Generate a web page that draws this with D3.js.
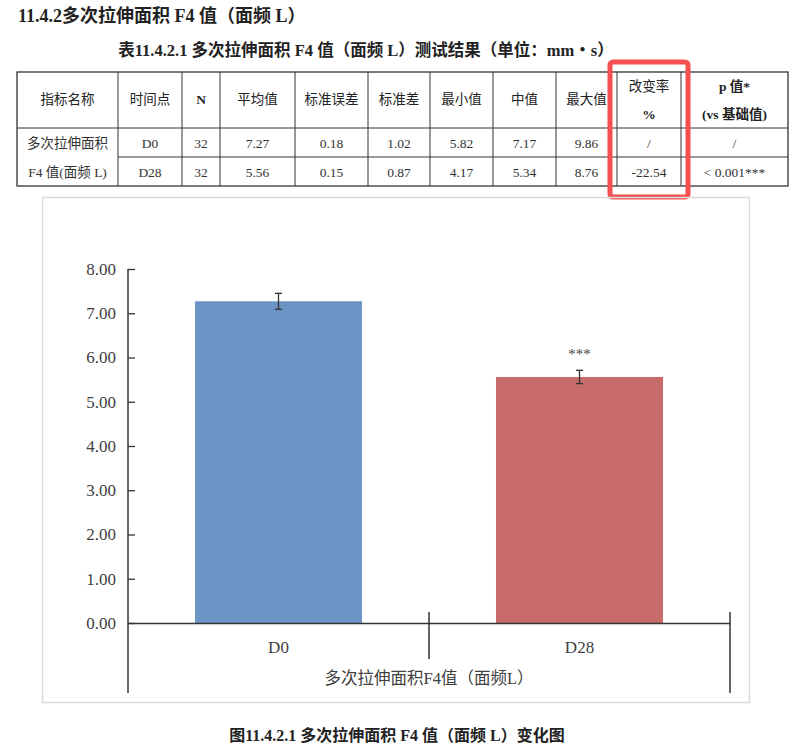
<!DOCTYPE html>
<html><head><meta charset="utf-8">
<script src="https://cdn.jsdelivr.net/npm/d3@7"></script>
<style>
html,body{margin:0;padding:0;background:#fff;}
svg{display:block;}
</style></head>
<body>
<svg id="c" width="806" height="750"></svg>
<script>
// ---- data ----
const categories = ["D0", "D28"];
const means = [7.27, 5.56];
const stdErrs = [0.18, 0.15];
const sigMarks = ["", "***"];
const yTicks = [0, 1, 2, 3, 4, 5, 6, 7, 8];
const barColors = ["#6c95c5", "#c76c6a"];

const tableHeaders = [["指标名称"], ["时间点"], ["N"], ["平均值"], ["标准误差"], ["标准差"], ["最小值"], ["中值"], ["最大值"], ["改变率", "%"], ["p 值*", "(vs 基础值)"]];
const indicatorName = ["多次拉伸面积", "F4 值(面频 L)"];
const timePoints = ["D0", "D28"];
const nValues = ["32", "32"];
const meanText = ["7.27", "5.56"];
const seText = ["0.18", "0.15"];
const sdText = ["1.02", "0.87"];
const minText = ["5.82", "4.17"];
const medText = ["7.17", "5.34"];
const maxText = ["9.86", "8.76"];
const changeText = ["/", "-22.54"];
const pText = ["/", "< 0.001***"];

const sectionTitle = "11.4.2多次拉伸面积 F4 值（面频 L）";
const tableCaption = "表11.4.2.1  多次拉伸面积 F4 值（面频 L）测试结果（单位：mm・s）";
const xAxisTitle = "多次拉伸面积F4值（面频L）";
const figCaption = "图11.4.2.1  多次拉伸面积 F4 值（面频 L）变化图";

const FONT = "'Liberation Serif','Times New Roman','Noto Sans CJK SC',serif";
const svg = d3.select("#c");
svg.append("rect").attr("width", 806).attr("height", 750).attr("fill", "#fff");

// ---- headings ----
svg.append("text").attr("x", 18).attr("y", 22).attr("font-family", FONT)
  .attr("font-size", 18).attr("font-weight", "bold").attr("fill", "#222").text(sectionTitle);
svg.append("text").attr("x", 366).attr("y", 56).attr("text-anchor", "middle").attr("font-family", FONT)
  .attr("font-size", 16.5).attr("font-weight", "bold").attr("fill", "#222").text(tableCaption);

// ---- table ----
const colX = [17, 118, 182, 220, 295, 368, 430, 493, 556, 617, 681, 788];
const rowY = [72, 128, 157, 186];
const tg = svg.append("g");
const lineC = "#333";
tg.append("rect").attr("x", colX[0]).attr("y", rowY[0]).attr("width", colX[11] - colX[0])
  .attr("height", rowY[3] - rowY[0]).attr("fill", "none").attr("stroke", lineC).attr("stroke-width", 1.3);
colX.slice(1, 11).forEach(x => tg.append("line").attr("x1", x).attr("x2", x).attr("y1", rowY[0]).attr("y2", rowY[3])
  .attr("stroke", lineC).attr("stroke-width", 1));
tg.append("line").attr("x1", colX[0]).attr("x2", colX[11]).attr("y1", rowY[1]).attr("y2", rowY[1]).attr("stroke", lineC);
tg.append("line").attr("x1", colX[1]).attr("x2", colX[11]).attr("y1", rowY[2]).attr("y2", rowY[2]).attr("stroke", lineC);

tableHeaders.forEach((h, i) => {
  const cx = (colX[i] + colX[i + 1]) / 2;
  const ys = h.length === 1 ? [104] : [91, 119];
  h.forEach((t, k) => {
    const latinBold = /^[A-Za-z%(p]/.test(t);
    tg.append("text").attr("x", cx).attr("y", ys[k]).attr("text-anchor", "middle")
      .attr("font-family", FONT).attr("font-size", 13.5)
      .attr("font-weight", latinBold ? "bold" : "normal").attr("fill", "#222").text(t);
  });
});
const bodyCols = [timePoints, nValues, meanText, seText, sdText, minText, medText, maxText, changeText, pText];
[0, 1].forEach(r => {
  const cy = (rowY[r + 1] + rowY[r + 2]) / 2 + 5;
  tg.append("text").attr("x", (colX[0] + colX[1]) / 2).attr("y", cy).attr("text-anchor", "middle")
    .attr("font-family", FONT).attr("font-size", 13.5).attr("fill", "#333").text(indicatorName[r]);
  bodyCols.forEach((col, c) => {
    tg.append("text").attr("x", (colX[c + 1] + colX[c + 2]) / 2).attr("y", cy).attr("text-anchor", "middle")
      .attr("font-family", FONT).attr("font-size", 13.5).attr("fill", "#333").text(col[r]);
  });
});
// red highlight box
svg.append("rect").attr("x", 610).attr("y", 62).attr("width", 78).attr("height", 135).attr("rx", 3)
  .attr("fill", "none").attr("stroke", "#f5504f").attr("stroke-width", 5);

// ---- chart ----
svg.append("rect").attr("x", 42.5).attr("y", 197.5).attr("width", 707).attr("height", 505)
  .attr("fill", "none").attr("stroke", "#d9d9d9").attr("stroke-width", 1.5);

const x = d3.scaleBand().domain(categories).range([128, 730]).paddingInner(0).paddingOuter(0);
const y = d3.scaleLinear().domain([0, 8]).range([623, 269]);
const barW = x.bandwidth() * 0.555;

const cg = svg.append("g");
cg.selectAll("rect.bar").data(categories).enter().append("rect").attr("class", "bar")
  .attr("x", d => x(d) + (x.bandwidth() - barW) / 2)
  .attr("y", (d, i) => y(means[i]))
  .attr("width", barW)
  .attr("height", (d, i) => y(0) - y(means[i]))
  .attr("fill", (d, i) => barColors[i]);

categories.forEach((d, i) => {
  const cx = x(d) + x.bandwidth() / 2;
  const hi = y(means[i] + stdErrs[i]), lo = y(means[i] - stdErrs[i]);
  cg.append("line").attr("x1", cx).attr("x2", cx).attr("y1", hi).attr("y2", lo).attr("stroke", "#333").attr("stroke-width", 1.3);
  [hi, lo].forEach(yy => cg.append("line").attr("x1", cx - 3.5).attr("x2", cx + 3.5).attr("y1", yy).attr("y2", yy)
    .attr("stroke", "#333").attr("stroke-width", 1.3));
  if (sigMarks[i]) {
    cg.append("text").attr("x", cx).attr("y", hi - 11).attr("text-anchor", "middle")
      .attr("font-family", FONT).attr("font-size", 15).attr("fill", "#444").text(sigMarks[i]);
  }
});

// y axis
const yAxis = d3.axisLeft(y).tickValues(yTicks).tickFormat(d3.format(".2f")).tickSizeInner(-7).tickSizeOuter(0).tickPadding(12);
const yg = svg.append("g").attr("transform", "translate(128,0)").call(yAxis);
yg.select(".domain").remove();
yg.selectAll(".tick line").attr("stroke", "#333").attr("stroke-width", 1.3);
yg.selectAll(".tick text").attr("font-family", FONT).attr("font-size", 17).attr("fill", "#404040");
svg.append("line").attr("x1", 128).attr("x2", 128).attr("y1", 269).attr("y2", 693).attr("stroke", "#333").attr("stroke-width", 1.5);

// x axis
const xAxis = d3.axisBottom(x).tickSize(0).tickPadding(18);
const xg = svg.append("g").attr("transform", "translate(0,623)").call(xAxis);
xg.select(".domain").attr("stroke", "#333").attr("stroke-width", 1.5);
xg.selectAll(".tick text").attr("font-family", FONT).attr("font-size", 17).attr("fill", "#404040");
const dividers = x.domain().slice(1).map(d => x(d));
dividers.forEach(dx => svg.append("line").attr("x1", dx).attr("x2", dx).attr("y1", 612).attr("y2", 659)
  .attr("stroke", "#333").attr("stroke-width", 1.5));
const rightEnd = x.range()[1];
svg.append("line").attr("x1", rightEnd).attr("x2", rightEnd).attr("y1", 612).attr("y2", 693)
  .attr("stroke", "#333").attr("stroke-width", 1.5);

svg.append("text").attr("x", (x.range()[0] + x.range()[1]) / 2).attr("y", 684).attr("text-anchor", "middle")
  .attr("font-family", FONT).attr("font-size", 16.5).attr("fill", "#404040").text(xAxisTitle);

svg.append("text").attr("x", 397).attr("y", 741).attr("text-anchor", "middle")
  .attr("font-family", FONT).attr("font-size", 16).attr("font-weight", "bold").attr("fill", "#222").text(figCaption);
</script>
</body></html>
